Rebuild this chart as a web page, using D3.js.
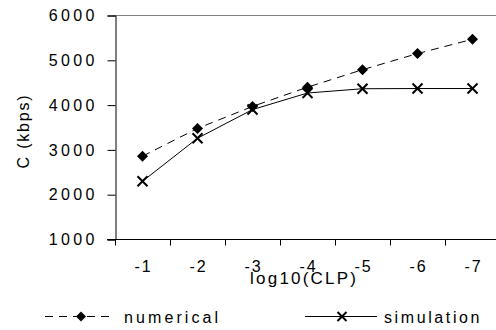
<!DOCTYPE html>
<html>
<head>
<meta charset="utf-8">
<script src="https://cdn.jsdelivr.net/npm/d3@7/dist/d3.min.js"></script>
<style>
  html, body { margin: 0; padding: 0; background: #fff; }
  svg { display: block; }
  text { font-family: "Liberation Sans", Arial, sans-serif; fill: #000; }
</style>
</head>
<body>
<svg id="chart" width="496" height="330"></svg>
<script>
const categories = ["-1", "-2", "-3", "-4", "-5", "-6", "-7"];
const numerical = [2860, 3480, 3970, 4400, 4790, 5150, 5470];
const simulation = [2300, 3260, 3900, 4270, 4365, 4370, 4370];
const yTicks = [1000, 2000, 3000, 4000, 5000, 6000];
const xTitle = "log10(CLP)";
const yTitle = "C (kbps)";
const seriesNames = ["numerical", "simulation"];

(function () {
const svg = d3.select("#chart");
const pLeft = 115, pRight = 500, pTop = 15.5, pBottom = 239.5;

const x = d3.scaleBand().domain(categories).range([pLeft, pRight]).padding(0);
const y = d3.scaleLinear().domain([1000, 6000]).range([pBottom, pTop]);

// top border line (gray)
svg.append("line")
  .attr("x1", pLeft).attr("x2", 496)
  .attr("y1", y(6000)).attr("y2", y(6000))
  .attr("stroke", "#808080").attr("stroke-width", 1);

// Y axis
const yAxis = d3.axisLeft(y).tickValues(yTicks).tickSize(8).tickPadding(13).tickFormat(d3.format("d"));
const gy = svg.append("g").attr("transform", `translate(${pLeft + 0.5},0)`).call(yAxis);
gy.select(".domain").attr("stroke", "#000");
gy.selectAll(".tick line").attr("stroke", "#000");
gy.selectAll(".tick text")
  .attr("font-size", 16).attr("letter-spacing", 3.4)
  .attr("dx", 3.4)
  .style("font-family", '"Liberation Sans", Arial, sans-serif');

// X axis: ticks at band boundaries
const gx = svg.append("g").attr("transform", `translate(0,${pBottom})`);
gx.append("line").attr("x1", pLeft - 8).attr("x2", 496).attr("y1", 0).attr("y2", 0).attr("stroke", "#000");
const boundaries = categories.map(c => x(c)).concat([x(categories[categories.length - 1]) + x.bandwidth()]);
gx.selectAll("line.tk").data(boundaries).join("line").attr("class", "tk")
  .attr("x1", d => Math.round(d) + 0.5).attr("x2", d => Math.round(d) + 0.5)
  .attr("y1", 0).attr("y2", 6).attr("stroke", "#000");
gx.selectAll("text.tl").data(categories).join("text").attr("class", "tl")
  .attr("x", d => x(d) + x.bandwidth() / 2 + 1)
  .attr("y", 32)
  .attr("text-anchor", "middle")
  .attr("font-size", 16).attr("letter-spacing", 2)
  .text(d => d);

// Axis titles
svg.append("text")
  .attr("x", 303 + 1.1).attr("y", 283.5)
  .attr("text-anchor", "middle")
  .attr("font-size", 17).attr("letter-spacing", 2.2)
  .text(xTitle);
svg.append("text")
  .attr("transform", "translate(29,131) rotate(-90)")
  .attr("text-anchor", "middle")
  .attr("font-size", 16).attr("letter-spacing", 1.8)
  .text(yTitle);

// Lines
const line = d3.line().x((d, i) => x(categories[i]) + x.bandwidth() / 2).y(d => y(d));
svg.append("path").datum(numerical).attr("d", line)
  .attr("fill", "none").attr("stroke", "#000").attr("stroke-width", 1)
  .attr("stroke-dasharray", "8,6");
svg.append("path").datum(simulation).attr("d", line)
  .attr("fill", "none").attr("stroke", "#000").attr("stroke-width", 1);

// Markers
const diamond = (cx, cy, r) => `M${cx},${cy - r}L${cx + r},${cy}L${cx},${cy + r}L${cx - r},${cy}Z`;
svg.selectAll("path.dm").data(numerical).join("path").attr("class", "dm")
  .attr("d", (d, i) => diamond(x(categories[i]) + x.bandwidth() / 2, y(d), 5.5))
  .attr("fill", "#000");
const cross = (cx, cy, r) => `M${cx - r},${cy - r}L${cx + r},${cy + r}M${cx - r},${cy + r}L${cx + r},${cy - r}`;
svg.selectAll("path.xm").data(simulation).join("path").attr("class", "xm")
  .attr("d", (d, i) => cross(x(categories[i]) + x.bandwidth() / 2, y(d), 5))
  .attr("stroke", "#000").attr("stroke-width", 2).attr("fill", "none");

// Legend
const ly = 316.5;
const lg = svg.append("g");
lg.append("line").attr("x1", 45).attr("x2", 113).attr("y1", ly).attr("y2", ly)
  .attr("stroke", "#000").attr("stroke-width", 1).attr("stroke-dasharray", "8,6");
lg.append("path").attr("d", diamond(81, ly, 5)).attr("fill", "#000");
lg.append("text").attr("x", 124).attr("y", 322.5)
  .attr("font-size", 16).attr("letter-spacing", 3.1).text(seriesNames[0]);
lg.append("line").attr("x1", 305).attr("x2", 377).attr("y1", ly).attr("y2", ly)
  .attr("stroke", "#000").attr("stroke-width", 1);
lg.append("path").attr("d", cross(342, ly, 4.5)).attr("stroke", "#000").attr("stroke-width", 2).attr("fill", "none");
lg.append("text").attr("x", 384).attr("y", 322.5)
  .attr("font-size", 16).attr("letter-spacing", 2.6).text(seriesNames[1]);
})();
</script>
</body>
</html>
